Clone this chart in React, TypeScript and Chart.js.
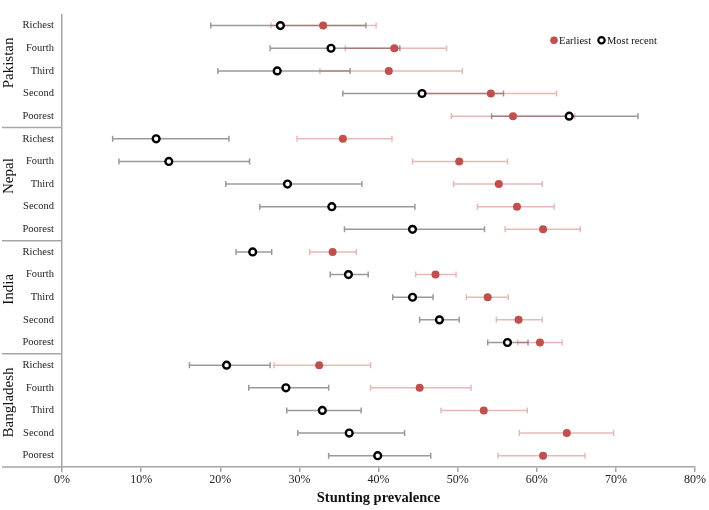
import React, { useEffect, useRef } from 'react';
import { Chart, registerables } from 'chart.js';

Chart.register(...registerables);

const countries = ['Pakistan', 'Nepal', 'India', 'Bangladesh'];
const quintiles = ['Richest', 'Fourth', 'Third', 'Second', 'Poorest'];
const xTickValues = [0, 10, 20, 30, 40, 50, 60, 70, 80];

// Rows: Pakistan (Richest..Poorest), Nepal, India, Bangladesh
const earliest = [
  33.0, 42.0, 41.3, 54.2, 57.0,
  35.5, 50.2, 55.2, 57.5, 60.8,
  34.2, 47.2, 53.8, 57.7, 60.4,
  32.5, 45.2, 53.3, 63.8, 60.8,
];
const earliestLow = [
  26.4, 35.8, 32.6, 45.9, 49.2,
  29.7, 44.3, 49.5, 52.5, 56.0,
  31.3, 44.7, 51.1, 54.9, 57.6,
  26.8, 39.0, 47.9, 57.8, 55.1,
];
const earliestHigh = [
  39.7, 48.6, 50.6, 62.5, 64.8,
  41.7, 56.3, 60.7, 62.2, 65.5,
  37.2, 49.8, 56.4, 60.7, 63.2,
  39.0, 51.7, 58.8, 69.7, 66.1,
];
const recent = [
  27.6, 34.0, 27.2, 45.5, 64.1,
  11.9, 13.5, 28.5, 34.1, 44.3,
  24.1, 36.2, 44.3, 47.7, 56.3,
  20.8, 28.3, 32.9, 36.3, 39.9,
];
const recentLow = [
  18.8, 26.3, 19.7, 35.5, 54.3,
  6.4, 7.2, 20.7, 25.0, 35.7,
  22.0, 33.9, 41.8, 45.2, 53.8,
  16.1, 23.6, 28.4, 29.8, 33.7,
];
const recentHigh = [
  38.4, 42.7, 36.4, 55.8, 72.8,
  21.1, 23.7, 37.9, 44.6, 53.4,
  26.5, 38.7, 46.9, 50.2, 58.9,
  26.3, 33.7, 37.8, 43.3, 46.6,
];

const SERIF = '"Liberation Serif", "Times New Roman", serif';
const RED = '#c0504d';
const AXIS = '#a6a6a6';

export default function App() {
  const ref = useRef<HTMLCanvasElement>(null);

  useEffect(() => {
    document.body.style.margin = '0';
    const canvas = ref.current;
    if (!canvas) return;
    const rowCount = countries.length * quintiles.length;

    const decor = {
      id: 'decor',
      beforeDatasetsDraw(chart: any) {
        const ctx = chart.ctx;
        const xs = chart.scales.x;
        const ys = chart.scales.y;
        const drawBars = (low: number[], high: number[], color: string) => {
          ctx.save();
          ctx.strokeStyle = color;
          ctx.lineWidth = 1.5;
          ctx.beginPath();
          low.forEach((lo, i) => {
            const y = ys.getPixelForValue(i);
            const x1 = xs.getPixelForValue(lo);
            const x2 = xs.getPixelForValue(high[i]);
            ctx.moveTo(x1, y);
            ctx.lineTo(x2, y);
            ctx.moveTo(x1, y - 3);
            ctx.lineTo(x1, y + 3);
            ctx.moveTo(x2, y - 3);
            ctx.lineTo(x2, y + 3);
          });
          ctx.stroke();
          ctx.restore();
        };
        drawBars(recentLow, recentHigh, 'rgba(0,0,0,0.4)');
        drawBars(earliestLow, earliestHigh, 'rgba(192,80,77,0.4)');
      },
      afterDraw(chart: any) {
        const ctx = chart.ctx;
        const ys = chart.scales.y;
        const area = chart.chartArea;
        ctx.save();
        // group separators
        ctx.strokeStyle = AXIS;
        ctx.lineWidth = 1.5;
        for (let g = 1; g <= countries.length; g++) {
          const y = ys.getPixelForValue(g * quintiles.length - 0.5);
          ctx.beginPath();
          ctx.moveTo(2, y);
          ctx.lineTo(area.left, y);
          ctx.stroke();
        }
        // country labels
        ctx.fillStyle = '#111';
        ctx.font = `15px ${SERIF}`;
        ctx.textAlign = 'center';
        ctx.textBaseline = 'alphabetic';
        countries.forEach((c, g) => {
          const y1 = ys.getPixelForValue(g * quintiles.length);
          const y2 = ys.getPixelForValue(g * quintiles.length + quintiles.length - 1);
          const cy = (y1 + y2) / 2 - 8;
          ctx.save();
          ctx.translate(13, cy);
          ctx.rotate(-Math.PI / 2);
          ctx.fillText(c, 0, 0);
          ctx.restore();
        });
        // legend
        const ly = area.top + 26;
        const lx = area.right - 141;
        ctx.font = `10.5px ${SERIF}`;
        ctx.textAlign = 'left';
        ctx.textBaseline = 'middle';
        ctx.fillStyle = RED;
        ctx.beginPath();
        ctx.arc(lx, ly, 3.8, 0, Math.PI * 2);
        ctx.fill();
        ctx.fillStyle = '#111';
        ctx.fillText('Earliest', lx + 5, ly + 0.5);
        ctx.beginPath();
        ctx.arc(lx + 47.5, ly, 3.2, 0, Math.PI * 2);
        ctx.fillStyle = '#fff';
        ctx.fill();
        ctx.strokeStyle = '#000';
        ctx.lineWidth = 2.2;
        ctx.stroke();
        ctx.fillStyle = '#111';
        ctx.fillText('Most recent', lx + 53, ly + 0.5);
        ctx.restore();
      },
    };

    const chart = new Chart(canvas, {
      type: 'scatter',
      data: {
        datasets: [
          {
            label: 'Earliest',
            data: earliest.map((v, i) => ({ x: v, y: i })),
            pointRadius: 4,
            pointBackgroundColor: RED,
            pointBorderColor: RED,
            pointBorderWidth: 0,
            pointHoverRadius: 4,
          },
          {
            label: 'Most recent',
            data: recent.map((v, i) => ({ x: v, y: i })),
            pointRadius: 3.4,
            pointBackgroundColor: '#fff',
            pointBorderColor: '#000',
            pointBorderWidth: 2.4,
            pointHoverRadius: 3.4,
          },
        ],
      },
      options: {
        animation: false,
        responsive: false,
        devicePixelRatio: 1,
        events: [],
        layout: { padding: { top: 3, right: 14, bottom: 0, left: 0 } },
        plugins: { legend: { display: false }, tooltip: { enabled: false } },
        scales: {
          x: {
            type: 'linear',
            min: 0,
            max: 80,
            afterBuildTicks: (s: any) => {
              s.ticks = xTickValues.map((v) => ({ value: v }));
            },
            afterFit: (s: any) => {
              s.height = 43;
            },
            ticks: {
              callback: (v: any) => `${v}%`,
              font: { family: SERIF, size: 12 },
              color: '#222',
              padding: 1,
              maxRotation: 0,
            },
            grid: {
              display: true,
              drawOnChartArea: false,
              drawTicks: true,
              tickLength: 5,
              color: AXIS,
              lineWidth: 1.5,
            },
            border: { display: true, color: AXIS, width: 1.5 },
            title: {
              display: true,
              text: 'Stunting prevalence',
              font: { family: SERIF, size: 14.5, weight: 'bold' },
              color: '#111',
              padding: { top: 0, bottom: 3 },
            },
          },
          y: {
            type: 'linear',
            min: -0.5,
            max: rowCount - 0.5,
            reverse: true,
            afterBuildTicks: (s: any) => {
              s.ticks = Array.from({ length: rowCount }, (_, i) => ({ value: i }));
            },
            afterFit: (s: any) => {
              s.width = 62;
            },
            ticks: {
              callback: (v: any) => quintiles[Number(v) % quintiles.length],
              font: { family: SERIF, size: 10.5 },
              color: '#222',
              padding: 8,
              autoSkip: false,
            },
            grid: { display: true, drawOnChartArea: false, drawTicks: false, color: AXIS },
            border: { display: true, color: AXIS, width: 1.5 },
          },
        },
      },
      plugins: [decor],
    } as any);

    return () => chart.destroy();
  }, []);

  return (
    <div style={{ width: 709, height: 510 }}>
      <canvas ref={ref} width={709} height={510} style={{ display: 'block' }} />
    </div>
  );
}
